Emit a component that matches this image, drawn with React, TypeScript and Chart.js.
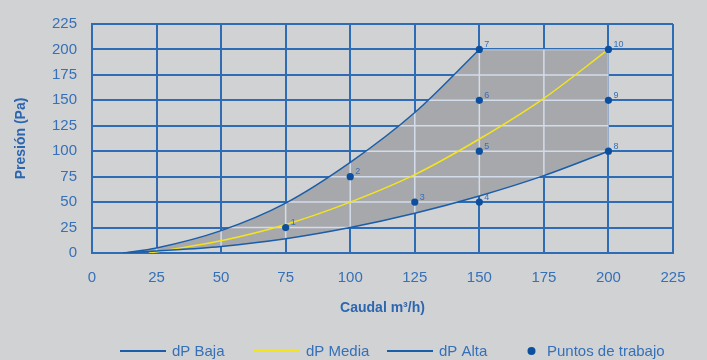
import React, { useEffect, useRef } from "react";
import { Chart, registerables } from "chart.js";

Chart.register(...registerables);

// Caudal (m³/h) and presión (Pa) for each fan curve
const caudalBaja = [12, 25, 50, 75, 100, 125, 150];
const presionBaja = [0, 5, 22, 49, 89, 138, 200];

const caudalMedia = [22, 50, 75, 100, 125, 150, 175, 200];
const presionMedia = [0, 12, 28, 50, 77, 112, 152, 200];

const caudalAlta = [12, 25, 50, 75, 100, 125, 150, 175, 200];
const presionAlta = [0, 2, 6.5, 14, 25, 39, 56, 76, 100];

// Working points (numbered 1..10)
const puntosCaudal = [75, 100, 125, 150, 150, 150, 150, 200, 200, 200];
const puntosPresion = [25, 75, 50, 50, 100, 150, 200, 100, 150, 200];
const puntosEtiquetas = ["1", "2", "3", "4", "5", "6", "7", "8", "9", "10"];

// Upper limits of the working zone
const limiteCaudal = 200;
const limitePresion = 200;

// Axis ticks
const ejeMin = 0;
const ejeMax = 225;
const ejePaso = 25;

const tituloX = "Caudal m³/h)";
const tituloY = "Presión (Pa)";

const leyendaTextos = ["dP Baja", "dP Media", "dP Alta", "Puntos de trabajo"];

const FONT = "'Liberation Sans', Arial, Helvetica, sans-serif";
const BG = "#d1d2d4";
const GRID = "#2f6cb6";
const GRID_LIGHT = "#d3dcea";
const TEXT = "#3570b8";
const AZUL_CURVA = "#1a5da8";
const AMARILLO = "#f4e41c";
const AZUL_PUNTO = "#0c4f9f";
const ZONA = "#a7a8ab";

const toXY = (xs: number[], ys: number[]) => xs.map((x, i) => ({ x, y: ys[i] }));

// Fills the working zone between dP Baja and dP Alta and redraws the grid lightly inside it
const zonaPlugin = {
  id: "zonaTrabajo",
  beforeDatasetsDraw(chart: any) {
    const { ctx, scales, chartArea } = chart;
    const sx = scales.x;
    const sy = scales.y;
    const upper = chart.getDatasetMeta(0).dataset;
    const lower = chart.getDatasetMeta(2).dataset;
    if (!upper || !lower || !upper.segments.length || !lower.segments.length) return;
    ctx.save();
    ctx.beginPath();
    upper.pathSegment(ctx, upper.segments[0], { move: true });
    ctx.lineTo(sx.getPixelForValue(limiteCaudal), sy.getPixelForValue(limitePresion));
    lower.pathSegment(ctx, lower.segments[0], { move: false, reverse: true });
    ctx.closePath();
    ctx.fillStyle = ZONA;
    ctx.fill();
    ctx.clip();
    ctx.strokeStyle = GRID_LIGHT;
    ctx.lineWidth = 1.5;
    ctx.beginPath();
    sx.ticks.forEach((t: any) => {
      const px = sx.getPixelForValue(t.value);
      ctx.moveTo(px, chartArea.top);
      ctx.lineTo(px, chartArea.bottom);
    });
    sy.ticks.forEach((t: any) => {
      const py = sy.getPixelForValue(t.value);
      ctx.moveTo(chartArea.left, py);
      ctx.lineTo(chartArea.right, py);
    });
    ctx.stroke();
    ctx.restore();
  },
};

// Small number next to each working point
const etiquetasPlugin = {
  id: "etiquetasPuntos",
  afterDatasetsDraw(chart: any) {
    const { ctx } = chart;
    const meta = chart.getDatasetMeta(3);
    ctx.save();
    ctx.font = `9px ${FONT}`;
    ctx.fillStyle = TEXT;
    ctx.textAlign = "left";
    ctx.textBaseline = "middle";
    meta.data.forEach((el: any, i: number) => {
      ctx.fillText(puntosEtiquetas[i], el.x + 5, el.y - 5);
    });
    ctx.restore();
  },
};

// Legend row under the x-axis title
const leyendaPlugin = {
  id: "leyendaInferior",
  afterDraw(chart: any) {
    const { ctx } = chart;
    const y = 351;
    const inicios = [120, 254, 387, 527];
    const colores = [AZUL_CURVA, AMARILLO, AZUL_CURVA, AZUL_PUNTO];
    ctx.save();
    ctx.font = `15px ${FONT}`;
    ctx.textBaseline = "middle";
    ctx.textAlign = "left";
    leyendaTextos.forEach((txt, i) => {
      const x0 = inicios[i];
      let tx: number;
      if (i < 3) {
        ctx.strokeStyle = colores[i];
        ctx.lineWidth = 2;
        ctx.beginPath();
        ctx.moveTo(x0, y);
        ctx.lineTo(x0 + 46, y);
        ctx.stroke();
        tx = x0 + 52;
      } else {
        ctx.fillStyle = colores[i];
        ctx.beginPath();
        ctx.arc(x0 + 4.5, y, 4, 0, Math.PI * 2);
        ctx.fill();
        tx = x0 + 20;
      }
      ctx.fillStyle = TEXT;
      ctx.fillText(txt, tx, y + 1);
    });
    ctx.restore();
  },
};

export default function App() {
  const canvasRef = useRef<HTMLCanvasElement | null>(null);

  useEffect(() => {
    if (!canvasRef.current) return;
    const lineaBase = {
      type: "line" as const,
      fill: false,
      pointRadius: 0,
      pointHoverRadius: 0,
      borderWidth: 1.5,
      cubicInterpolationMode: "monotone" as const,
    };
    const chart = new Chart(canvasRef.current, {
      type: "line",
      data: {
        datasets: [
          { ...lineaBase, label: leyendaTextos[0], data: toXY(caudalBaja, presionBaja), borderColor: AZUL_CURVA, order: 2 },
          { ...lineaBase, label: leyendaTextos[1], data: toXY(caudalMedia, presionMedia), borderColor: AMARILLO, order: 3 },
          { ...lineaBase, label: leyendaTextos[2], data: toXY(caudalAlta, presionAlta), borderColor: AZUL_CURVA, order: 2 },
          {
            type: "scatter" as const,
            label: leyendaTextos[3],
            data: toXY(puntosCaudal, puntosPresion),
            showLine: false,
            pointRadius: 3.6,
            pointHoverRadius: 3.6,
            pointBackgroundColor: AZUL_PUNTO,
            pointBorderColor: AZUL_PUNTO,
            pointBorderWidth: 0,
            order: 0,
          } as any,
        ],
      },
      options: {
        animation: false,
        responsive: true,
        maintainAspectRatio: false,
        layout: { padding: { top: 22, right: 34, bottom: 0, left: 0 } },
        plugins: {
          legend: { display: false },
          tooltip: { enabled: false },
        },
        scales: {
          x: {
            type: "linear",
            min: ejeMin,
            max: ejeMax,
            ticks: { stepSize: ejePaso, color: TEXT, padding: 16, font: { family: FONT, size: 15 }, maxRotation: 0 },
            grid: { color: GRID, lineWidth: 2, drawTicks: false },
            border: { color: GRID, width: 2 },
            title: {
              display: true,
              text: tituloX,
              color: "#2c66b0",
              font: { family: FONT, size: 14, weight: "bold" },
              padding: { top: 0, bottom: 43.6 },
            },
            afterFit: (s: any) => {
              s.height = 107;
            },
          },
          y: {
            type: "linear",
            min: ejeMin,
            max: ejeMax,
            ticks: { stepSize: ejePaso, color: TEXT, padding: 15, font: { family: FONT, size: 15 } },
            grid: { color: GRID, lineWidth: 2, drawTicks: false },
            border: { color: GRID, width: 2 },
            title: {
              display: true,
              text: tituloY,
              color: "#2c66b0",
              font: { family: FONT, size: 14, weight: "bold" },
              padding: { top: 13, bottom: 0 },
            },
            afterFit: (s: any) => {
              s.width = 92;
            },
          },
        },
      },
      plugins: [zonaPlugin, etiquetasPlugin, leyendaPlugin],
    });
    return () => chart.destroy();
  }, []);

  return (
    <div style={{ position: "fixed", left: 0, top: 0, width: "100vw", height: "100vh", background: BG }}>
      <canvas ref={canvasRef} />
    </div>
  );
}
